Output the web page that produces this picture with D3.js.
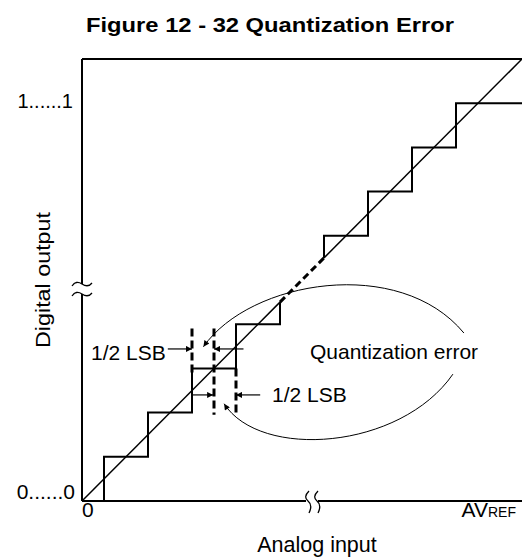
<!DOCTYPE html>
<html>
<head>
<meta charset="utf-8">
<script src="https://cdn.jsdelivr.net/npm/d3@7/dist/d3.min.js"></script>
<style>
  html, body { margin: 0; padding: 0; background: #fff; }
  svg { display: block; }
  text { font-family: "Liberation Sans", Arial, sans-serif; fill: #000; }
</style>
</head>
<body>
<div id="chart"></div>
<script>
// ---------- data (in LSB units) ----------
const title = "Figure 12 - 32 Quantization Error";
const xDomain = [0, 10];          // analog input, 0 .. AVREF
const yDomain = [0, 10];          // digital output codes
const xTickLabels = ["0", "AV", "REF"];
const yTickLabels = ["0......0", "1......1"];
const xAxisTitle = "Analog input";
const yAxisTitle = "Digital output";

// lower staircase (codes 0..4) and upper staircase (codes 6..9)
const lowerThresholds = [0.5, 1.5, 2.5, 3.5];
const lowerCodes = [0, 1, 2, 3, 4];
const upperThresholds = [6.5, 7.5, 8.5];
const upperCodes = [6, 7, 8, 9];
const omittedStart = 4.5;   // where the drawing is interrupted
const omittedEnd = 5.5;

// ideal transfer line
const idealLine = [[0, 0], [10, 10]];

// 1/2 LSB guide lines: [x, yTop, yBottom]
const guides = [[2.5, 3.9, 2.85], [3.0, 3.9, 1.95], [3.5, 3.0, 1.95]];
// dimension arrows: [xFrom, xTo, y]
const dimArrows = [[1.95, 2.5, 3.44], [3.67, 3.0, 3.44], [2.5, 2.98, 2.4], [4.05, 3.5, 2.4]];
// callout curves: [start, c1, c2, end]
const calloutCurves = [
  [[8.68, 3.80], [7.22, 5.56], [3.82, 5.00], [2.76, 3.49]],
  [[8.43, 2.87], [7.23, 1.15], [4.05, 0.93], [3.23, 2.20]]
];

// ---------- layout ----------
const W = 522, H = 557;
const x = d3.scaleLinear().domain(xDomain).range([82, 522]);
const y = d3.scaleLinear().domain(yDomain).range([501, 59]);

const svg = d3.select("#chart").append("svg").attr("width", W).attr("height", H);

const defs = svg.append("defs");
defs.append("marker").attr("id", "ah")
  .attr("viewBox", "0 0 10 10").attr("refX", 10).attr("refY", 5)
  .attr("markerUnits", "userSpaceOnUse")
  .attr("markerWidth", 9).attr("markerHeight", 6).attr("orient", "auto")
  .append("path").attr("d", "M0,0 L10,5 L0,10 Z").attr("fill", "#000");
defs.append("marker").attr("id", "ah2")
  .attr("viewBox", "0 0 10 10").attr("refX", 10).attr("refY", 5)
  .attr("markerUnits", "userSpaceOnUse")
  .attr("markerWidth", 11).attr("markerHeight", 6).attr("orient", "auto")
  .append("path").attr("d", "M0,0 L10,5 L0,10 Z").attr("fill", "#000");

// title
svg.append("text").attr("x", 270).attr("y", 32).attr("text-anchor", "middle")
  .attr("font-size", 21).attr("font-weight", "bold")
  .attr("textLength", 368).attr("lengthAdjust", "spacingAndGlyphs")
  .text(title);

// frame: top, left (with break), bottom (with break)
const frame = svg.append("g").attr("stroke", "#000").attr("stroke-width", 2).attr("fill", "none");
frame.append("line").attr("x1", x(0)).attr("x2", x(10)).attr("y1", y(10)).attr("y2", y(10));
frame.append("line").attr("x1", x(0)).attr("x2", x(0)).attr("y1", y(10)).attr("y2", 284);
frame.append("line").attr("x1", x(0)).attr("x2", x(0)).attr("y1", 294).attr("y2", y(0));
frame.append("line").attr("x1", x(0)).attr("x2", 306).attr("y1", y(0)).attr("y2", y(0));
frame.append("line").attr("x1", 318).attr("x2", x(10)).attr("y1", y(0)).attr("y2", y(0));

// break marks
const brk = svg.append("g").attr("stroke", "#000").attr("stroke-width", 1.3).attr("fill", "none");
[284, 294].forEach(yy => {
  brk.append("path").attr("d", `M72,${yy + 2} Q76,${yy - 4} ${x(0)},${yy} T92,${yy - 1}`);
});
[308, 317].forEach(xx => {
  brk.append("path").attr("d", `M${xx + 1},491 Q${xx - 5},497 ${xx},${y(0)} T${xx + 1},513`);
});

// ideal line: solid outside the omitted region, dashed inside
const lineGen = d3.line().x(d => x(d[0])).y(d => y(d[1]));
svg.append("path").attr("d", lineGen([idealLine[0], [omittedStart, omittedStart]]))
  .attr("stroke", "#000").attr("stroke-width", 1.5).attr("fill", "none");
svg.append("path").attr("d", lineGen([[omittedEnd, omittedEnd], idealLine[1]]))
  .attr("stroke", "#000").attr("stroke-width", 1.5).attr("fill", "none");
svg.append("path").attr("d", lineGen([[omittedStart, omittedStart], [omittedEnd, omittedEnd]]))
  .attr("stroke", "#000").attr("stroke-width", 3).attr("stroke-dasharray", "7,4").attr("fill", "none");

// staircases
function stairPoints(thresholds, codes, xStart, xEnd) {
  const pts = [[xStart, codes[0]]];
  thresholds.forEach((t, i) => { pts.push([t, codes[i]]); pts.push([t, codes[i + 1]]); });
  pts.push([xEnd, codes[codes.length - 1]]);
  return pts;
}
const lowerPts = stairPoints(lowerThresholds, lowerCodes, 0, omittedStart);
lowerPts.push([omittedStart, omittedStart]);
const upperPts = [[omittedEnd, omittedEnd]].concat(stairPoints(upperThresholds, upperCodes, omittedEnd, 10));
[lowerPts, upperPts].forEach(p => {
  svg.append("path").attr("d", lineGen(p)).attr("stroke", "#000")
    .attr("stroke-width", 2).attr("fill", "none");
});

// 1/2 LSB guides
guides.forEach(g => {
  svg.append("line").attr("x1", x(g[0])).attr("x2", x(g[0])).attr("y1", y(g[1])).attr("y2", y(g[2]))
    .attr("stroke", "#000").attr("stroke-width", 3).attr("stroke-dasharray", "8,4");
});
dimArrows.forEach(a => {
  svg.append("line").attr("x1", x(a[0])).attr("x2", x(a[1])).attr("y1", y(a[2])).attr("y2", y(a[2]))
    .attr("stroke", "#000").attr("stroke-width", 1.2).attr("marker-end", "url(#ah)");
});

// callout curves
calloutCurves.forEach(c => {
  const p = d3.path();
  p.moveTo(x(c[0][0]), y(c[0][1]));
  p.bezierCurveTo(x(c[1][0]), y(c[1][1]), x(c[2][0]), y(c[2][1]), x(c[3][0]), y(c[3][1]));
  svg.append("path").attr("d", p.toString()).attr("stroke", "#000").attr("stroke-width", 1)
    .attr("fill", "none").attr("marker-end", "url(#ah2)");
});

// labels
const fs = 21;
svg.append("text").attr("x", x(1.95) - 2).attr("y", 360).attr("text-anchor", "end")
  .attr("font-size", fs).text("1/2 LSB");
svg.append("text").attr("x", 272).attr("y", 402).attr("font-size", fs).text("1/2 LSB");
svg.append("text").attr("x", 310).attr("y", 359).attr("font-size", fs).text("Quantization error");

// axis labels
svg.append("text").attr("x", 73).attr("y", y(9.06) + 7).attr("text-anchor", "end")
  .attr("font-size", 20).text(yTickLabels[1]);
svg.append("text").attr("x", 75).attr("y", y(0.2) + 7).attr("text-anchor", "end")
  .attr("font-size", 21).text(yTickLabels[0]);
svg.append("text").attr("x", x(0)).attr("y", 517).attr("font-size", fs).text(xTickLabels[0]);
const av = svg.append("text").attr("x", x(10) - 6).attr("y", 517).attr("text-anchor", "end").attr("font-size", fs);
av.append("tspan").text(xTickLabels[1]);
av.append("tspan").attr("font-size", 14).text(xTickLabels[2]);
svg.append("text").attr("x", 317).attr("y", 552).attr("text-anchor", "middle")
  .attr("font-size", 21.5).text(xAxisTitle);
svg.append("text").attr("transform", "translate(50,280) rotate(-90)").attr("text-anchor", "middle")
  .attr("font-size", 21).attr("textLength", 136).attr("lengthAdjust", "spacingAndGlyphs")
  .text(yAxisTitle);
</script>
</body>
</html>
